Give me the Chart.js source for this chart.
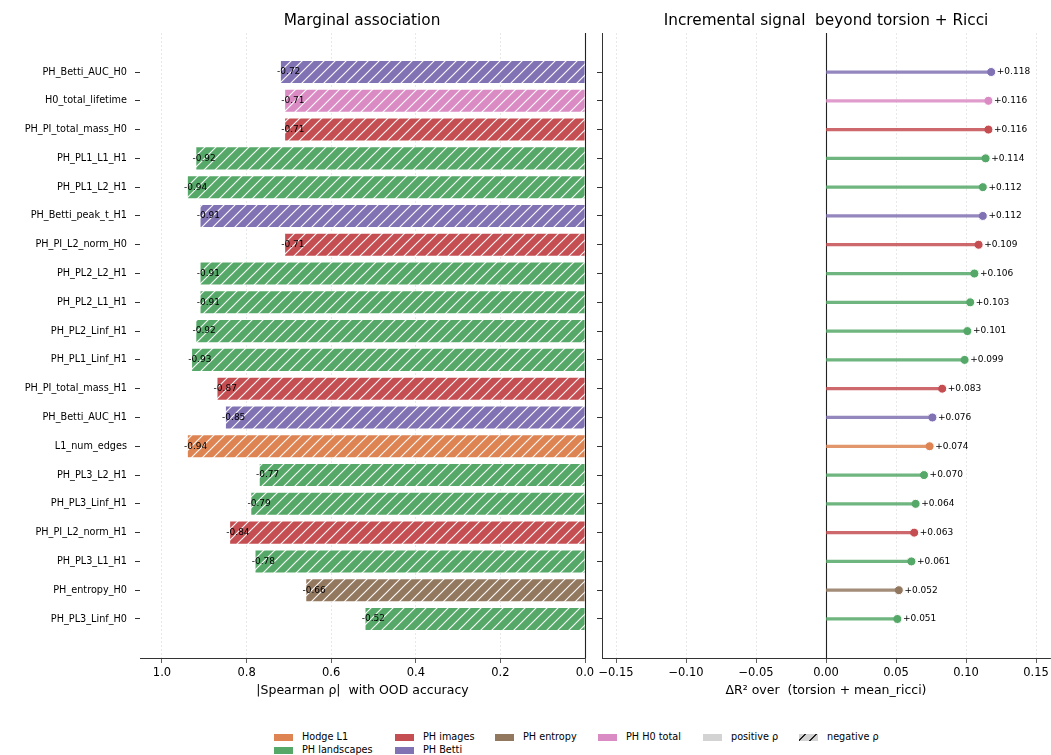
<!DOCTYPE html>
<html>
<head>
<meta charset="utf-8">
<script src="https://cdn.jsdelivr.net/npm/chart.js@4.4.0/dist/chart.umd.min.js"></script>
<style>
  body { margin: 0; background: #fff; font-family: "DejaVu Sans", sans-serif; }
  #wrap { position: relative; width: 1051px; height: 755px; overflow: hidden; }
  canvas { position: absolute; top: 0; }
  .title { position: absolute; top: 11px; font-size: 15.3px; color: #000; white-space: nowrap; transform: translateX(-50%); }
  .lg { position: absolute; font-size: 9.7px; line-height: 12px; white-space: nowrap; color: #000; }
  .sw { position: absolute; width: 19px; height: 7px; }
</style>
</head>
<body>
<div id="wrap">
  <canvas id="left" width="595" height="710" style="left:0"></canvas>
  <canvas id="right" width="456" height="710" style="left:595px"></canvas>
  <div class="title" style="left:362px">Marginal association</div>
  <div class="title" style="left:826px">Incremental signal&nbsp; beyond torsion + Ricci</div>
  <div id="legend"></div>
</div>
<script>
// Daten
const features = ['PH_Betti_AUC_H0', 'H0_total_lifetime', 'PH_PI_total_mass_H0', 'PH_PL1_L1_H1',
  'PH_PL1_L2_H1', 'PH_Betti_peak_t_H1', 'PH_PI_L2_norm_H0', 'PH_PL2_L2_H1', 'PH_PL2_L1_H1',
  'PH_PL2_Linf_H1', 'PH_PL1_Linf_H1', 'PH_PI_total_mass_H1', 'PH_Betti_AUC_H1', 'L1_num_edges',
  'PH_PL3_L2_H1', 'PH_PL3_Linf_H1', 'PH_PI_L2_norm_H1', 'PH_PL3_L1_H1', 'PH_entropy_H0', 'PH_PL3_Linf_H0'];
const groups = ['PH Betti', 'PH H0 total', 'PH images', 'PH landscapes', 'PH landscapes', 'PH Betti',
  'PH images', 'PH landscapes', 'PH landscapes', 'PH landscapes', 'PH landscapes', 'PH images',
  'PH Betti', 'Hodge L1', 'PH landscapes', 'PH landscapes', 'PH images', 'PH landscapes',
  'PH entropy', 'PH landscapes'];
const rho = [-0.72, -0.71, -0.71, -0.92, -0.94, -0.91, -0.71, -0.91, -0.91, -0.92,
  -0.93, -0.87, -0.85, -0.94, -0.77, -0.79, -0.84, -0.78, -0.66, -0.52];
const deltaR2 = [0.118, 0.116, 0.116, 0.114, 0.112, 0.112, 0.109, 0.106, 0.103, 0.101,
  0.099, 0.083, 0.076, 0.074, 0.070, 0.064, 0.063, 0.061, 0.052, 0.051];
const groupNames = ['Hodge L1', 'PH landscapes', 'PH images', 'PH Betti', 'PH entropy', 'PH H0 total'];
const xTicksLeft = [0, 0.2, 0.4, 0.6, 0.8, 1.0];
const xTicksRight = [-0.15, -0.10, -0.05, 0, 0.05, 0.10, 0.15];

const groupColors = {
  'Hodge L1': '#DD8452', 'PH landscapes': '#55A868', 'PH images': '#C44E52',
  'PH Betti': '#8172B3', 'PH entropy': '#937860', 'PH H0 total': '#DA8BC3'
};
const FONT = '"DejaVu Sans", sans-serif';
Chart.defaults.font.family = FONT;
Chart.defaults.color = '#000';

// Schraffur fuer negative rho
function hatch(color) {
  const c = document.createElement('canvas');
  c.width = c.height = 11;
  const g = c.getContext('2d');
  g.fillStyle = color;
  g.fillRect(0, 0, 11, 11);
  g.strokeStyle = 'rgba(255,255,255,0.95)';
  g.lineWidth = 1.2;
  g.beginPath();
  g.moveTo(-1, 12); g.lineTo(12, -1);
  g.moveTo(-1, 1); g.lineTo(1, -1);
  g.moveTo(10, 12); g.lineTo(12, 10);
  g.stroke();
  return g.createPattern(c, 'repeat');
}

function zeroLine(after) {
  const draw = chart => {
    const { ctx, chartArea, scales: { x } } = chart;
    const px = Math.round(x.getPixelForValue(0)) + 0.5;
    ctx.save();
    ctx.strokeStyle = '#222';
    ctx.lineWidth = 1.1;
    ctx.beginPath();
    ctx.moveTo(px, chartArea.top);
    ctx.lineTo(px, chartArea.bottom);
    ctx.stroke();
    ctx.restore();
  };
  return after ? { id: 'zeroA', afterDatasetsDraw: draw } : { id: 'zeroB', beforeDatasetsDraw: draw };
}

const yRange = { min: -1.355, max: 20.355 };
const noPad = s => { s.paddingLeft = 0; s.paddingRight = 0; };

// linker Plot: |rho|
new Chart(document.getElementById('left'), {
  type: 'bar',
  data: {
    datasets: [{
      data: rho.map((r, i) => ({ x: Math.abs(r), y: i })),
      backgroundColor: groups.map(g => hatch(groupColors[g])),
      borderColor: 'rgba(255,255,255,0.9)',
      borderWidth: 0.8,
      barThickness: 23
    }]
  },
  options: {
    indexAxis: 'y',
    responsive: false,
    animation: false,
    layout: { autoPadding: false, padding: { top: 33, right: 10, left: 0, bottom: 0 } },
    plugins: { legend: { display: false }, tooltip: { enabled: false } },
    scales: {
      x: {
        type: 'linear', reverse: true, min: 0, max: 1.052,
        afterBuildTicks: s => { s.ticks = xTicksLeft.map(v => ({ value: v })); },
        ticks: { callback: v => v.toFixed(1), font: { size: 11.5 }, color: '#000', padding: 3, maxRotation: 0, autoSkip: false },
        grid: { color: '#e2e2e2', lineWidth: 0.8, tickLength: 5, tickColor: '#333' },
        border: { display: true, color: '#333', width: 1, dash: [2, 2] },
        title: { display: true, text: '|Spearman ρ|  with OOD accuracy', font: { size: 12.5 }, color: '#000', padding: { top: 0, bottom: 12 } },
        afterFit: s => { s.height = 52; noPad(s); }
      },
      y: {
        type: 'linear', reverse: true, min: yRange.min, max: yRange.max, offset: false,
        afterBuildTicks: s => { s.ticks = features.map((_, i) => ({ value: i })); },
        ticks: { callback: v => features[v], font: { size: 9.7 }, color: '#000', padding: 8, autoSkip: false },
        grid: { offset: false, drawOnChartArea: false, tickLength: 5, tickColor: '#333' },
        border: { display: false },
        afterFit: s => { s.width = 140; }
      }
    }
  },
  plugins: [zeroLine(true), {
    id: 'rhoLabels',
    afterDatasetsDraw(chart) {
      const { ctx, scales: { x, y } } = chart;
      ctx.save();
      ctx.font = '9px ' + FONT;
      ctx.fillStyle = '#000';
      ctx.textAlign = 'left';
      ctx.textBaseline = 'middle';
      rho.forEach((r, i) => ctx.fillText(r.toFixed(2), x.getPixelForValue(Math.abs(r) + 0.008), y.getPixelForValue(i)));
      ctx.restore();
    }
  }]
});

// rechter Plot: Delta R^2 Lollipops
new Chart(document.getElementById('right'), {
  type: 'bar',
  data: {
    datasets: [{
      type: 'bar',
      data: deltaR2.map((v, i) => ({ x: v, y: i })),
      backgroundColor: groups.map(g => groupColors[g] + 'd9'),
      borderWidth: 0,
      barThickness: 2.6
    }, {
      type: 'scatter',
      data: deltaR2.map((v, i) => ({ x: v, y: i })),
      pointRadius: 4.5,
      pointBackgroundColor: groups.map(g => groupColors[g]),
      pointBorderColor: '#fff',
      pointBorderWidth: 1
    }]
  },
  options: {
    indexAxis: 'y',
    responsive: false,
    animation: false,
    layout: { autoPadding: false, padding: { top: 33, right: 1, left: 0, bottom: 0 } },
    plugins: { legend: { display: false }, tooltip: { enabled: false } },
    scales: {
      x: {
        type: 'linear', min: -0.16, max: 0.16,
        afterBuildTicks: s => { s.ticks = xTicksRight.map(v => ({ value: v })); },
        ticks: { callback: v => (v < 0 ? '\u2212' : '') + Math.abs(v).toFixed(2), font: { size: 11.5 }, color: '#000', padding: 3, maxRotation: 0, autoSkip: false },
        grid: { color: '#e2e2e2', lineWidth: 0.8, tickLength: 5, tickColor: '#333' },
        border: { display: true, color: '#333', width: 1, dash: [2, 2] },
        title: { display: true, text: 'ΔR² over  (torsion + mean_ricci)', font: { size: 12.5 }, color: '#000', padding: { top: 0, bottom: 12 } },
        afterFit: s => { s.height = 52; noPad(s); }
      },
      y: {
        type: 'linear', reverse: true, min: yRange.min, max: yRange.max, offset: false,
        afterBuildTicks: s => { s.ticks = features.map((_, i) => ({ value: i })); },
        ticks: { display: false },
        grid: { offset: false, drawOnChartArea: false, tickLength: 5, tickColor: '#333' },
        border: { display: true, color: '#333', width: 1 },
        afterFit: s => { s.width = 7; }
      }
    }
  },
  plugins: [zeroLine(false), {
    id: 'dLabels',
    afterDatasetsDraw(chart) {
      const { ctx, scales: { x, y } } = chart;
      ctx.save();
      ctx.font = '9px ' + FONT;
      ctx.fillStyle = '#000';
      ctx.textAlign = 'left';
      ctx.textBaseline = 'middle';
      deltaR2.forEach((v, i) => ctx.fillText('+' + v.toFixed(3), x.getPixelForValue(v + 0.004), y.getPixelForValue(i)));
      ctx.restore();
    }
  }]
});

// Legende (spaltenweise wie matplotlib)
const legendItems = groupNames.map(n => ({ label: n, style: 'background:' + groupColors[n] }))
  .concat([
    { label: 'positive ρ', style: 'background:#d3d3d3' },
    { label: 'negative ρ', style: 'background:#d3d3d3 repeating-linear-gradient(135deg, transparent 0 4px, #222 4px 5.4px, transparent 5.4px 8px)' }
  ]);
const colX = [274, 395, 495, 598, 703, 799];
const rowY = [737, 750];
const slots = [[0, 0], [0, 1], [1, 0], [1, 1], [2, 0], [3, 0], [4, 0], [5, 0]];
let html = '';
legendItems.forEach((it, k) => {
  const [c, r] = slots[k];
  html += '<div class="sw" style="left:' + colX[c] + 'px;top:' + (rowY[r] - 3.5) + 'px;' + it.style + '"></div>';
  html += '<div class="lg" style="left:' + (colX[c] + 28) + 'px;top:' + (rowY[r] - 6) + 'px">' + it.label + '</div>';
});
document.getElementById('legend').innerHTML = html;
</script>
</body>
</html>
